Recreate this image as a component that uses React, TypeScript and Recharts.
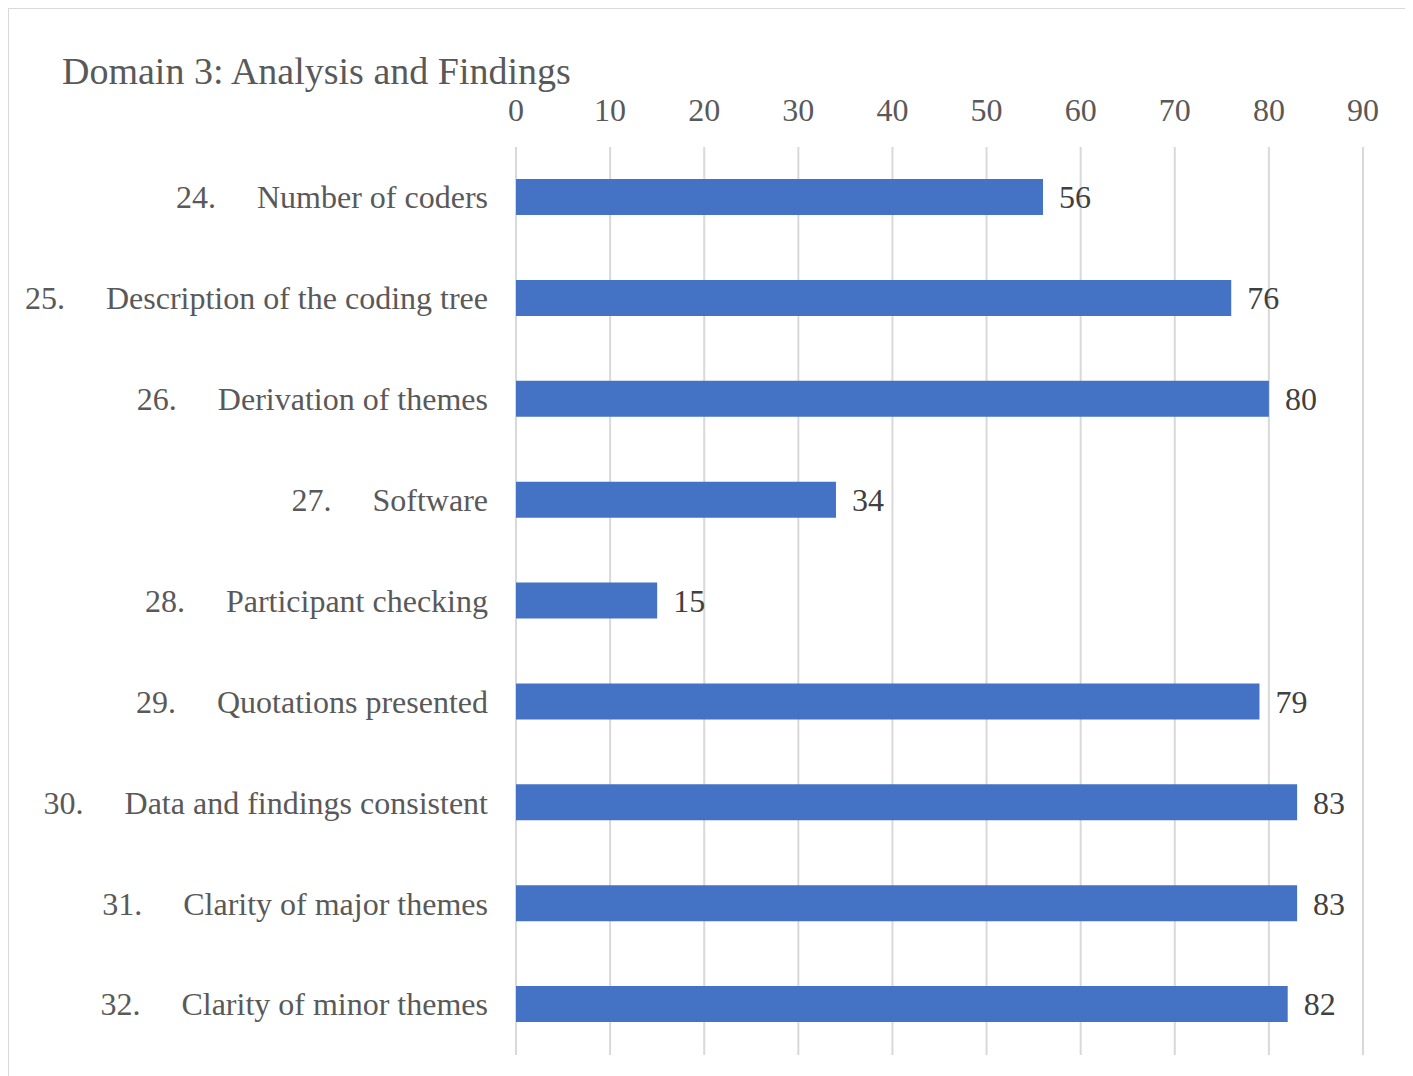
import { BarChart, Bar, XAxis, YAxis, CartesianGrid, LabelList } from "recharts"

const itemNumbers = ["24.", "25.", "26.", "27.", "28.", "29.", "30.", "31.", "32."]
const itemNames = [
  "Number of coders",
  "Description of the coding tree",
  "Derivation of themes",
  "Software",
  "Participant checking",
  "Quotations presented",
  "Data and findings consistent",
  "Clarity of major themes",
  "Clarity of minor themes",
]
const percentages = [56, 76, 80, 34, 15, 79, 83, 83, 82]
const xTicks = [0, 10, 20, 30, 40, 50, 60, 70, 80, 90]

const data = itemNames.map((name, i) => ({
  name,
  num: itemNumbers[i],
  value: percentages[i],
}))

const serif = '"Liberation Serif", "Times New Roman", serif'

// number + tab gap + text, anchored at the right end
function ItemTick(props: any) {
  const { x, y, payload, index } = props
  return (
    <text x={x} y={y} dy="0.34em" textAnchor="end" fill="#595959" fontSize={32} fontFamily={serif}>
      <tspan>{itemNumbers[index]}</tspan>
      <tspan dx={41}>{payload.value}</tspan>
    </text>
  )
}

export default function App() {
  return (
    <div
      style={{
        position: "relative",
        width: 1398,
        height: 1078,
        border: "1px solid #d9d9d9",
        background: "#fff",
      }}
    >
      <div
        style={{
          position: "absolute",
          left: 53,
          top: 43,
          fontFamily: serif,
          fontSize: 38,
          lineHeight: "38px",
          color: "#595959",
          whiteSpace: "nowrap",
        }}
      >
        Domain 3: Analysis and Findings
      </div>
      <BarChart
        width={1398}
        height={1068}
        data={data}
        layout="vertical"
        margin={{ top: 0, right: 44, bottom: 22, left: 0 }}
        barCategoryGap={0}
      >
        <CartesianGrid horizontal={false} stroke="#d9d9d9" strokeWidth={2} />
        <XAxis
          type="number"
          orientation="top"
          domain={[0, 90]}
          ticks={xTicks}
          height={138}
          axisLine={false}
          tickLine={false}
          tickSize={0}
          tickMargin={26}
          tick={{ fill: "#595959", fontSize: 32, fontFamily: serif }}
          interval={0}
        />
        <YAxis
          type="category"
          dataKey="name"
          width={507}
          axisLine={false}
          tickLine={false}
          tickSize={0}
          tickMargin={28}
          tick={<ItemTick />}
          interval={0}
        />
        <Bar dataKey="value" fill="#4472C4" barSize={36} isAnimationActive={false}>
          <LabelList
            dataKey="value"
            position="right"
            offset={16}
            fill="#404040"
            fontSize={32}
            fontFamily={serif}
          />
        </Bar>
      </BarChart>
    </div>
  )
}
